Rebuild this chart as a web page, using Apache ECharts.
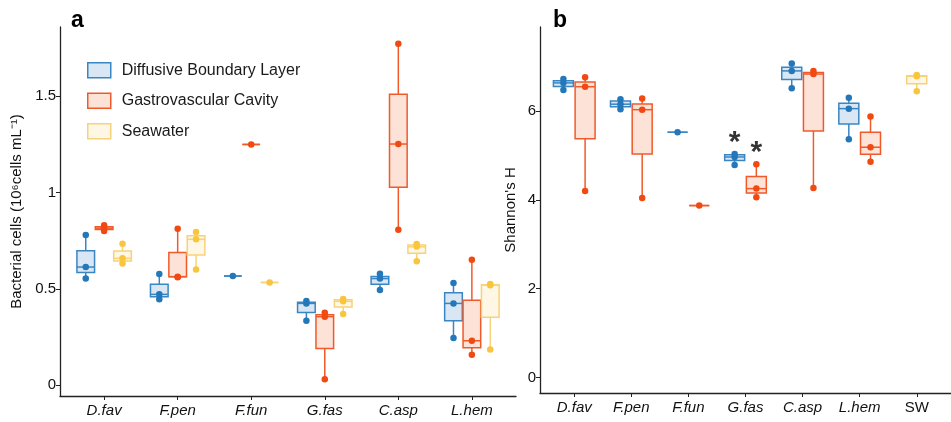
<!DOCTYPE html>
<html>
<head>
<meta charset="utf-8">
<script src="https://cdn.jsdelivr.net/npm/echarts@6/dist/echarts.min.js"></script>
<style>
  html, body { margin: 0; padding: 0; background: #fff; }
  #chart { width: 951px; height: 422px; }
</style>
</head>
<body>
<div id="chart"></div>
<script>
const cellCats = ['D.fav', 'F.pen', 'F.fun', 'G.fas', 'C.asp', 'L.hem']
const shannonCats = ['D.fav', 'F.pen', 'F.fun', 'G.fas', 'C.asp', 'L.hem', 'SW']
const cellTicks = [0, 0.5, 1, 1.5]
const shannonTicks = [0, 2, 4, 6]

// box stats [min, Q1, median, Q3, max]
const cellDblBox = [
  [0.554, 0.585, 0.613, 0.698, 0.779],
  [0.445, 0.458, 0.471, 0.524, 0.577],
  [0.566, 0.566, 0.566, 0.566, 0.566],
  [0.334, 0.377, 0.424, 0.430, 0.436],
  [0.494, 0.523, 0.553, 0.564, 0.578],
  [0.244, 0.334, 0.424, 0.479, 0.530]
]
const cellGvcBox = [
  [0.800, 0.808, 0.815, 0.822, 0.830],
  [0.560, 0.562, 0.563, 0.688, 0.812],
  [1.250, 1.250, 1.250, 1.250, 1.250],
  [0.030, 0.190, 0.355, 0.365, 0.375],
  [0.807, 1.027, 1.252, 1.510, 1.773],
  [0.157, 0.194, 0.230, 0.440, 0.651]
]
const cellSwBox = [
  [0.632, 0.644, 0.658, 0.696, 0.734],
  [0.600, 0.676, 0.757, 0.775, 0.795],
  [0.533, 0.533, 0.533, 0.533, 0.533],
  [0.369, 0.405, 0.435, 0.443, 0.447],
  [0.643, 0.684, 0.718, 0.728, 0.733],
  [0.185, 0.352, 0.519, 0.521, 0.525]
]
// single samples (dots)
const cellDblPts = [[0.554, 0.613, 0.779], [0.445, 0.471, 0.577], [0.566], [0.334, 0.424, 0.436], [0.494, 0.553, 0.578], [0.244, 0.424, 0.530]]
const cellGvcPts = [[0.800, 0.815, 0.830], [0.560, 0.563, 0.812], [1.250], [0.030, 0.355, 0.375], [0.807, 1.252, 1.773], [0.157, 0.230, 0.651]]
const cellSwPts = [[0.632, 0.658, 0.734], [0.600, 0.757, 0.795], [0.533], [0.369, 0.435, 0.447], [0.643, 0.720, 0.733], [0.185, 0.519, 0.525]]

// panel b
const shanDblBox = [
  [6.48, 6.56, 6.64, 6.69, 6.73],
  [6.045, 6.10, 6.16, 6.23, 6.27],
  [5.527, 5.527, 5.527, 5.527, 5.527],
  [4.79, 4.89, 4.97, 5.02, 5.04],
  [6.52, 6.715, 6.91, 6.99, 7.08],
  [5.37, 5.715, 6.06, 6.18, 6.306],
  null
]
const shanGvcBox = [
  [4.205, 5.38, 6.554, 6.66, 6.766],
  [4.047, 5.04, 6.036, 6.164, 6.29],
  [3.874, 3.874, 3.874, 3.874, 3.874],
  [4.063, 4.16, 4.257, 4.53, 4.806],
  [4.27, 5.555, 6.84, 6.875, 6.91],
  [4.865, 5.03, 5.19, 5.53, 5.88],
  null
]
const shanSwBox = [null, null, null, null, null, null, [6.45, 6.62, 6.79, 6.80, 6.82]]
const shanDblPts = [[6.48, 6.64, 6.73], [6.045, 6.16, 6.27], [5.527], [4.79, 4.97, 5.04], [6.52, 6.91, 7.08], [5.37, 6.06, 6.306], []]
const shanGvcPts = [[4.205, 6.554, 6.766], [4.047, 6.036, 6.29], [3.874], [4.063, 4.257, 4.806], [4.27, 6.84, 6.91], [4.865, 5.19, 5.88], []]
const shanSwPts = [[], [], [], [], [], [], [6.45, 6.79, 6.82]]
// significance stars above G.fas (DBL, GVC)
const starDbl = [null, null, null, 5.40, null, null, null]
const starGvc = [null, null, null, 5.17, null, null, null]

const FONT = 'Liberation Sans, Arial, sans-serif'
const BLUE = { dot: '#2477b8', line: '#3a86c2', fill: 'rgba(58,134,194,0.2)' }
const RED = { dot: '#f04a12', line: '#f05a2a', fill: 'rgba(245,110,60,0.2)' }
const YEL = { dot: '#f9c53c', line: '#f8d27a', fill: 'rgba(250,210,110,0.18)' }

function boxSeries(name, boxes, off, width, col, axis) {
  return {
    type: 'custom',
    name: name,
    xAxisIndex: axis,
    yAxisIndex: axis,
    z: 2,
    data: boxes.map((b, i) => b && [i + 1 + off].concat(b)).filter(Boolean),
    renderItem: function (params, api) {
      const x = api.value(0)
      const half = api.size([width, 0])[0] / 2
      const p = [1, 2, 3, 4, 5].map(d => api.coord([x, api.value(d)]))
      const cx = p[0][0]
      const st = { stroke: col.line, lineWidth: 1.5, fill: null }
      return {
        type: 'group',
        children: [
          { type: 'line', shape: { x1: cx, y1: p[0][1], x2: cx, y2: p[1][1] }, style: st },
          { type: 'line', shape: { x1: cx, y1: p[3][1], x2: cx, y2: p[4][1] }, style: st },
          { type: 'rect', shape: { x: cx - half, y: p[3][1], width: half * 2, height: p[1][1] - p[3][1] },
            style: { fill: col.fill, stroke: col.line, lineWidth: 1.5 } },
          { type: 'line', shape: { x1: cx - half, y1: p[2][1], x2: cx + half, y2: p[2][1] }, style: st }
        ]
      }
    }
  }
}

function dotSeries(name, pts, off, col, axis) {
  const data = []
  pts.forEach((vals, i) => vals.forEach(v => data.push([i + 1 + off, v])))
  return {
    type: 'scatter',
    name: name,
    xAxisIndex: axis,
    yAxisIndex: axis,
    z: 3,
    symbolSize: 6.5,
    itemStyle: { color: col.dot, opacity: 1 },
    data: data
  }
}

function starSeries(vals, off) {
  return {
    type: 'scatter',
    name: 'star',
    xAxisIndex: 1,
    yAxisIndex: 1,
    symbolSize: 0,
    z: 4,
    label: {
      show: true, position: 'inside', formatter: '*', color: '#000',
      fontSize: 30, fontWeight: 'bold', fontFamily: FONT, offset: [0, 5]
    },
    data: vals.map((v, i) => v == null ? null : [i + 1 + off, v]).filter(Boolean)
  }
}

function catAxis(cats, grid) {
  return {
    type: 'value',
    gridIndex: grid,
    min: 0.4,
    max: cats.length + 0.6,
    splitLine: { show: false },
    axisLine: { show: true, onZero: false, lineStyle: { color: '#222', width: 1.3 } },
    axisTick: { show: true, length: 4, customValues: cats.map((c, i) => i + 1), lineStyle: { color: '#222' } },
    axisLabel: {
      customValues: cats.map((c, i) => i + 1),
      margin: 7,
      formatter: v => {
        const c = cats[Math.round(v) - 1]
        return c === 'SW' ? '{n|' + c + '}' : '{i|' + c + '}'
      },
      rich: {
        i: { fontStyle: 'italic', fontSize: 15, color: '#111', fontFamily: FONT },
        n: { fontSize: 15, color: '#111', fontFamily: FONT }
      }
    }
  }
}

function valAxis(grid, min, max, ticks, name, gap) {
  return {
    type: 'value',
    gridIndex: grid,
    min: min,
    max: max,
    name: name,
    nameLocation: 'middle',
    nameRotate: 90,
    nameGap: gap,
    nameTextStyle: { fontSize: 15, color: '#111', fontFamily: FONT },
    splitLine: { show: false },
    axisLine: { show: true, onZero: false, lineStyle: { color: '#222', width: 1.3 } },
    axisTick: { show: true, length: 4, customValues: ticks, lineStyle: { color: '#222' } },
    axisLabel: { customValues: ticks, margin: 4, fontSize: 15, color: '#111', fontFamily: FONT }
  }
}

const chart = echarts.init(document.getElementById('chart'), null, { renderer: 'canvas' })
chart.setOption({
  animation: false,
  backgroundColor: '#fff',
  textStyle: { fontFamily: FONT },
  title: [
    { text: 'a', left: 66, top: 4, textStyle: { fontSize: 23, fontWeight: 'bold', color: '#000', fontFamily: FONT } },
    { text: 'b', left: 548, top: 4, textStyle: { fontSize: 23, fontWeight: 'bold', color: '#000', fontFamily: FONT } }
  ],
  legend: {
    left: 82,
    top: 57,
    orient: 'vertical',
    itemWidth: 23,
    itemHeight: 15,
    itemGap: 14,
    textStyle: { fontSize: 16, color: '#1a1a1a', fontFamily: FONT, padding: [0, 0, 0, 6] },
    data: [
      { name: 'Diffusive Boundary Layer', icon: 'rect', itemStyle: { color: BLUE.fill, borderColor: BLUE.line, borderWidth: 1.5 } },
      { name: 'Gastrovascular Cavity', icon: 'rect', itemStyle: { color: RED.fill, borderColor: RED.line, borderWidth: 1.5 } },
      { name: 'Seawater', icon: 'rect', itemStyle: { color: YEL.fill, borderColor: YEL.line, borderWidth: 1.5 } }
    ]
  },
  grid: [
    { left: 60, top: 27, width: 456, height: 369 },
    { left: 540, top: 27, width: 422, height: 366 }
  ],
  xAxis: [catAxis(cellCats, 0), catAxis(shannonCats, 1)],
  yAxis: [
    valAxis(0, -0.057, 1.86, cellTicks, 'Bacterial cells (10\u2076cells mL\u207B\u00B9)', 36),
    valAxis(1, -0.35, 7.9, shannonTicks, "Shannon's H", 22)
  ],
  series: [
    boxSeries('Diffusive Boundary Layer', cellDblBox, -0.25, 0.24, BLUE, 0),
    boxSeries('Gastrovascular Cavity', cellGvcBox, 0, 0.24, RED, 0),
    boxSeries('Seawater', cellSwBox, 0.25, 0.24, YEL, 0),
    dotSeries('dbl dots a', cellDblPts, -0.25, BLUE, 0),
    dotSeries('gvc dots a', cellGvcPts, 0, RED, 0),
    dotSeries('sw dots a', cellSwPts, 0.25, YEL, 0),
    boxSeries('Diffusive Boundary Layer', shanDblBox, -0.19, 0.35, BLUE, 1),
    boxSeries('Gastrovascular Cavity', shanGvcBox, 0.19, 0.35, RED, 1),
    boxSeries('Seawater', shanSwBox, 0, 0.35, YEL, 1),
    dotSeries('dbl dots b', shanDblPts, -0.19, BLUE, 1),
    dotSeries('gvc dots b', shanGvcPts, 0.19, RED, 1),
    dotSeries('sw dots b', shanSwPts, 0, YEL, 1),
    starSeries(starDbl, -0.19),
    starSeries(starGvc, 0.19)
  ]
})
</script>
</body>
</html>
